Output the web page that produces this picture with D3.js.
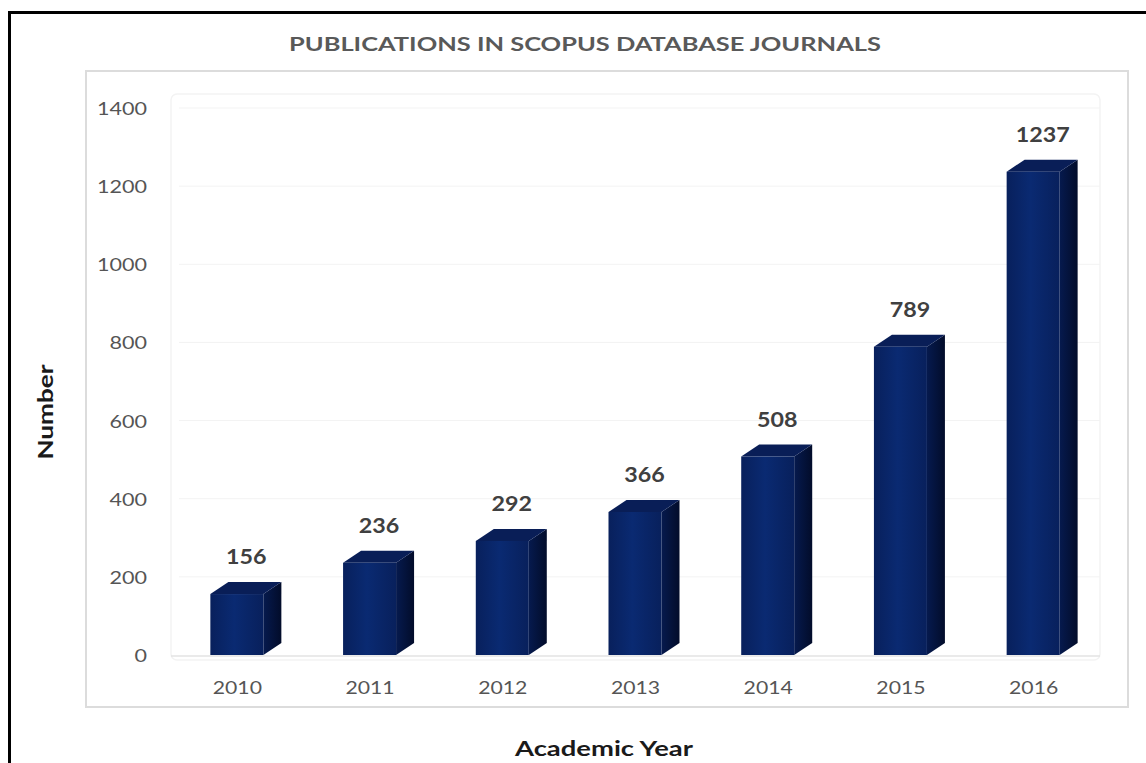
<!DOCTYPE html>
<html><head><meta charset="utf-8">
<script src="https://cdn.jsdelivr.net/npm/d3@7"></script>
<style>
html,body{margin:0;padding:0;background:#fff;}
svg{display:block;}
text{font-family:Lato,"Open Sans",sans-serif;}
</style></head>
<body>
<svg id="chart" width="1146" height="763"></svg>
<script>
const years = ["2010","2011","2012","2013","2014","2015","2016"];
const counts = [156, 236, 292, 366, 508, 789, 1237];
const yTicks = [0, 200, 400, 600, 800, 1000, 1200, 1400];
const titleText = "PUBLICATIONS IN SCOPUS DATABASE JOURNALS";
const xTitle = "Academic Year";
const yTitle = "Number";

const svg = d3.select("#chart");

// outer black frame
svg.append("rect").attr("x",9.5).attr("y",12.5).attr("width",1150).attr("height",800)
  .attr("fill","none").attr("stroke","#000").attr("stroke-width",3);
// inner light frame
svg.append("rect").attr("x",86).attr("y",71).attr("width",1042).attr("height",636)
  .attr("fill","none").attr("stroke","#dcdcdc").attr("stroke-width",2);

const plot = {left:171, right:1100, top:108, bottom:655};
const x = d3.scaleBand().domain(years).range([plot.left, plot.right]).paddingInner(0).paddingOuter(0);
const y = d3.scaleLinear().domain([0,1400]).range([plot.bottom, plot.top]);

// faint plot border
svg.append("rect").attr("x",plot.left).attr("y",94).attr("width",plot.right-plot.left).attr("height",plot.bottom+5-94)
  .attr("fill","none").attr("stroke","#f3f3f3").attr("stroke-width",1.5).attr("rx",6);

// gridlines
svg.append("g").selectAll("line").data(yTicks.slice(1)).join("line")
  .attr("x1",plot.left+8).attr("x2",plot.right)
  .attr("y1",d=>y(d)).attr("y2",d=>y(d))
  .attr("stroke","#f3f3f3").attr("stroke-width",1);

// baseline
svg.append("line").attr("x1",plot.left).attr("x2",plot.right).attr("y1",plot.bottom+1).attr("y2",plot.bottom+1)
  .attr("stroke","#e3e3e3").attr("stroke-width",1.5);

// y axis
const yAxis = d3.axisLeft(y).tickValues(yTicks).tickFormat(d3.format("d")).tickSize(0).tickPadding(0);
const yg = svg.append("g").attr("transform",`translate(147,0)`).call(yAxis);
yg.select(".domain").remove();
yg.selectAll("text").attr("fill","#555").style("font-size","18px").attr("dy","0.36em")
  .attr("textLength",function(){return this.textContent.length*12.5;}).attr("lengthAdjust","spacingAndGlyphs");

// x axis
const xAxis = d3.axisBottom(x).tickSize(0).tickPadding(0);
const xg = svg.append("g").attr("transform",`translate(0,688)`).call(xAxis);
xg.select(".domain").remove();
xg.selectAll("text").attr("fill","#555").style("font-size","18px").attr("dy","0.36em")
  .attr("textLength",function(){return this.textContent.length*12.3;}).attr("lengthAdjust","spacingAndGlyphs");

// gradients
const defs = svg.append("defs");
const gf = defs.append("linearGradient").attr("id","front").attr("x1","0").attr("x2","1").attr("y1","0").attr("y2","0");
gf.append("stop").attr("offset","0").attr("stop-color","#08205c");
gf.append("stop").attr("offset","0.45").attr("stop-color","#0a2a72");
gf.append("stop").attr("offset","1").attr("stop-color","#08205c");
const gs = defs.append("linearGradient").attr("id","side").attr("x1","0").attr("x2","1").attr("y1","0").attr("y2","0");
gs.append("stop").attr("offset","0").attr("stop-color","#061a4e");
gs.append("stop").attr("offset","1").attr("stop-color","#020c2a");

const fw = 53, dx = 18, dy = 12;
const bars = svg.append("g").selectAll("g").data(years.map((yr,i)=>({yr, v:counts[i]}))).join("g");
bars.each(function(d){
  const g = d3.select(this);
  const cx = x(d.yr) + x.bandwidth()/2;
  const x0 = cx - 27, x1 = x0 + fw;
  const yt = y(d.v), yb = y(0);
  g.append("path").attr("d",`M${x1},${yt} L${x1+dx},${yt-dy} L${x1+dx},${yb-dy} L${x1},${yb} Z`).attr("fill","url(#side)");
  g.append("path").attr("d",`M${x0},${yt} L${x0+dx},${yt-dy} L${x1+dx},${yt-dy} L${x1},${yt} Z`).attr("fill","#091e57");
  g.append("rect").attr("x",x0).attr("y",yt).attr("width",fw).attr("height",yb-yt).attr("fill","url(#front)");
  const s = String(d.v);
  g.append("text").attr("x",cx+9).attr("y",yt-dy-18).attr("text-anchor","middle")
    .attr("fill","#404040").style("font-size","20px").style("font-weight","bold")
    .attr("textLength",s.length*13.5).attr("lengthAdjust","spacingAndGlyphs").text(s);
});

// titles
svg.append("text").attr("x",585).attr("y",51).attr("text-anchor","middle")
  .attr("fill","#595959").style("font-size","19px").style("font-weight","bold")
  .attr("textLength",592).attr("lengthAdjust","spacingAndGlyphs").text(titleText);
svg.append("text").attr("x",604).attr("y",756).attr("text-anchor","middle")
  .attr("fill","#1a1a1a").style("font-size","20px").style("font-weight","bold")
  .attr("textLength",178).attr("lengthAdjust","spacingAndGlyphs").text(xTitle);
svg.append("text").attr("transform","translate(53,412) rotate(-90)").attr("text-anchor","middle")
  .attr("fill","#1a1a1a").style("font-size","21px").style("font-weight","bold")
  .attr("textLength",95).attr("lengthAdjust","spacingAndGlyphs").text(yTitle);
</script>
</body></html>
